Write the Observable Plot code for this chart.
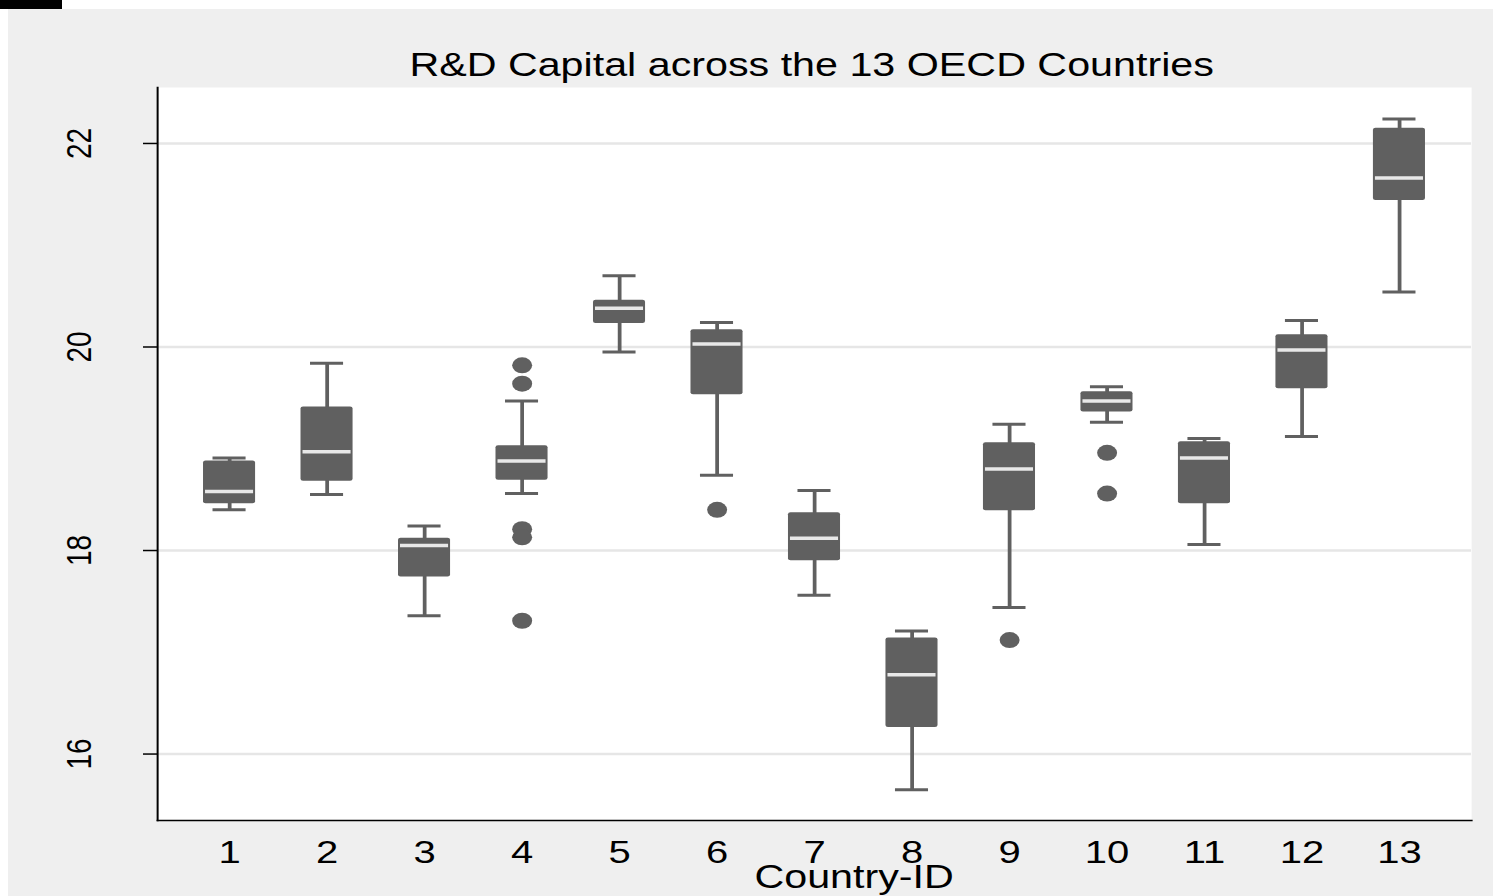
<!DOCTYPE html>
<html>
<head>
<meta charset="utf-8">
<script src="https://cdn.jsdelivr.net/npm/d3@7"></script>
<script src="https://cdn.jsdelivr.net/npm/@observablehq/plot@0.6"></script>
<style>
  html, body { margin: 0; padding: 0; background: #ffffff; width: 1493px; height: 896px; overflow: hidden; }
  #corner { position: absolute; left: 0; top: 0; width: 62px; height: 9px; background: #000; }
  #panel { position: absolute; left: 8px; top: 9px; width: 1485px; height: 887px; background: #efefef; }
</style>
</head>
<body>
<div id="corner"></div>
<div id="panel"></div>
<script>
// ---- data ----
const countryIds   = [1, 2, 3, 4, 5, 6, 7, 8, 9, 10, 11, 12, 13];
const lowerWhisker = [18.40, 18.55, 17.36, 18.56, 19.95, 18.74, 17.56, 15.65, 17.44, 19.26, 18.06, 19.12, 20.54];
const quartile1    = [18.46, 18.68, 17.74, 18.69, 20.23, 19.53, 17.90, 16.26, 18.39, 19.36, 18.46, 19.59, 21.44];
const medians      = [18.58, 18.97, 18.05, 18.88, 20.38, 20.03, 18.12, 16.78, 18.80, 19.47, 18.91, 19.97, 21.66];
const quartile3    = [18.88, 19.41, 18.12, 19.03, 20.46, 20.17, 18.37, 17.14, 19.06, 19.56, 19.07, 20.12, 22.15];
const upperWhisker = [18.91, 19.84, 18.24, 19.47, 20.70, 20.24, 18.59, 17.21, 19.24, 19.61, 19.10, 20.26, 22.24];
const outlierIds    = [4, 4, 4, 4, 4, 6, 9, 10, 10];
const outlierValues = [19.82, 19.64, 18.21, 18.13, 17.31, 18.40, 17.12, 18.96, 18.56];
const yTicks = [16, 18, 20, 22];
const titleText = "R&D Capital across the 13 OECD Countries";
const xLabelText = "Country-ID";

const boxes = countryIds.map((id, i) => ({
  id, lo: lowerWhisker[i], q1: quartile1[i], med: medians[i], q3: quartile3[i], hi: upperWhisker[i]
}));
const outliers = outlierIds.map((id, i) => ({id, v: outlierValues[i]}));

// ---- style ----
const SX = 1.25;              // horizontal stretch of the reference
const W = 1485, H = 887;
const W0 = W / SX;
const boxColor = "#606060";
const font = "'Liberation Sans', Arial, Helvetica, sans-serif";

const plot = Plot.plot({
  width: W0,
  height: H,
  marginLeft: 149 / SX,
  marginRight: 22 / SX,
  marginTop: 78,
  marginBottom: 76,
  style: {background: "#efefef", fontFamily: font, fontSize: "32px", color: "#000", overflow: "visible"},
  x: {type: "band", domain: countryIds, paddingInner: 0.466, paddingOuter: 0.472, round: false, label: null},
  y: {domain: [15.347, 22.55], label: null},
  marks: [
    Plot.frame({fill: "white", stroke: null}),
    Plot.gridY(yTicks, {stroke: "#e6e6e6", strokeOpacity: 1, strokeWidth: 2.5}),
    Plot.ruleX(boxes, {x: "id", y1: "lo", y2: "hi", stroke: boxColor, strokeWidth: 3}),
    Plot.tickY(boxes, {x: "id", y: "hi", stroke: boxColor, strokeWidth: 3, insetLeft: 7.6, insetRight: 7.6}),
    Plot.tickY(boxes, {x: "id", y: "lo", stroke: boxColor, strokeWidth: 3, insetLeft: 7.6, insetRight: 7.6}),
    Plot.barY(boxes, {x: "id", y1: "q1", y2: "q3", fill: boxColor, rx: 2}),
    Plot.tickY(boxes, {x: "id", y: "med", stroke: "#e8e8e8", strokeWidth: 3.5, insetLeft: 1.6, insetRight: 1.6}),
    Plot.dot(outliers, {x: "id", y: "v", r: 8, fill: boxColor, stroke: null}),
    Plot.frame({anchor: "left", stroke: "#000", strokeWidth: 1.6}),
    Plot.frame({anchor: "bottom", stroke: "#000", strokeWidth: 1.6}),
    Plot.axisY({ticks: yTicks, tickSize: 14 / SX, tickFormat: () => "", label: null, stroke: "#000", strokeWidth: 1.5}),
    Plot.text(yTicks, {y: d => d, text: d => String(d), frameAnchor: "left", dx: -62.4, rotate: -90,
      textAnchor: "middle", lineAnchor: "middle", fontSize: 28, fill: "#000"}),
    Plot.axisX({tickSize: 0, tickPadding: 20, fontSize: 32, label: null, fill: "#000"}),
    Plot.text([titleText], {text: d => d, frameAnchor: "top", dx: -2.4, dy: -12, lineAnchor: "bottom", fontSize: 33, fill: "#000"}),
    Plot.text([xLabelText], {text: d => d, frameAnchor: "bottom", dx: 31.6, dy: 67, lineAnchor: "bottom", fontSize: 33, fill: "#000"})
  ]
});

plot.setAttribute("width", W);
plot.setAttribute("height", H);
plot.setAttribute("preserveAspectRatio", "none");
plot.style.width = W + "px";
plot.style.height = H + "px";
plot.style.maxWidth = "none";
plot.style.display = "block";
document.getElementById("panel").appendChild(plot);
</script>
</body>
</html>
